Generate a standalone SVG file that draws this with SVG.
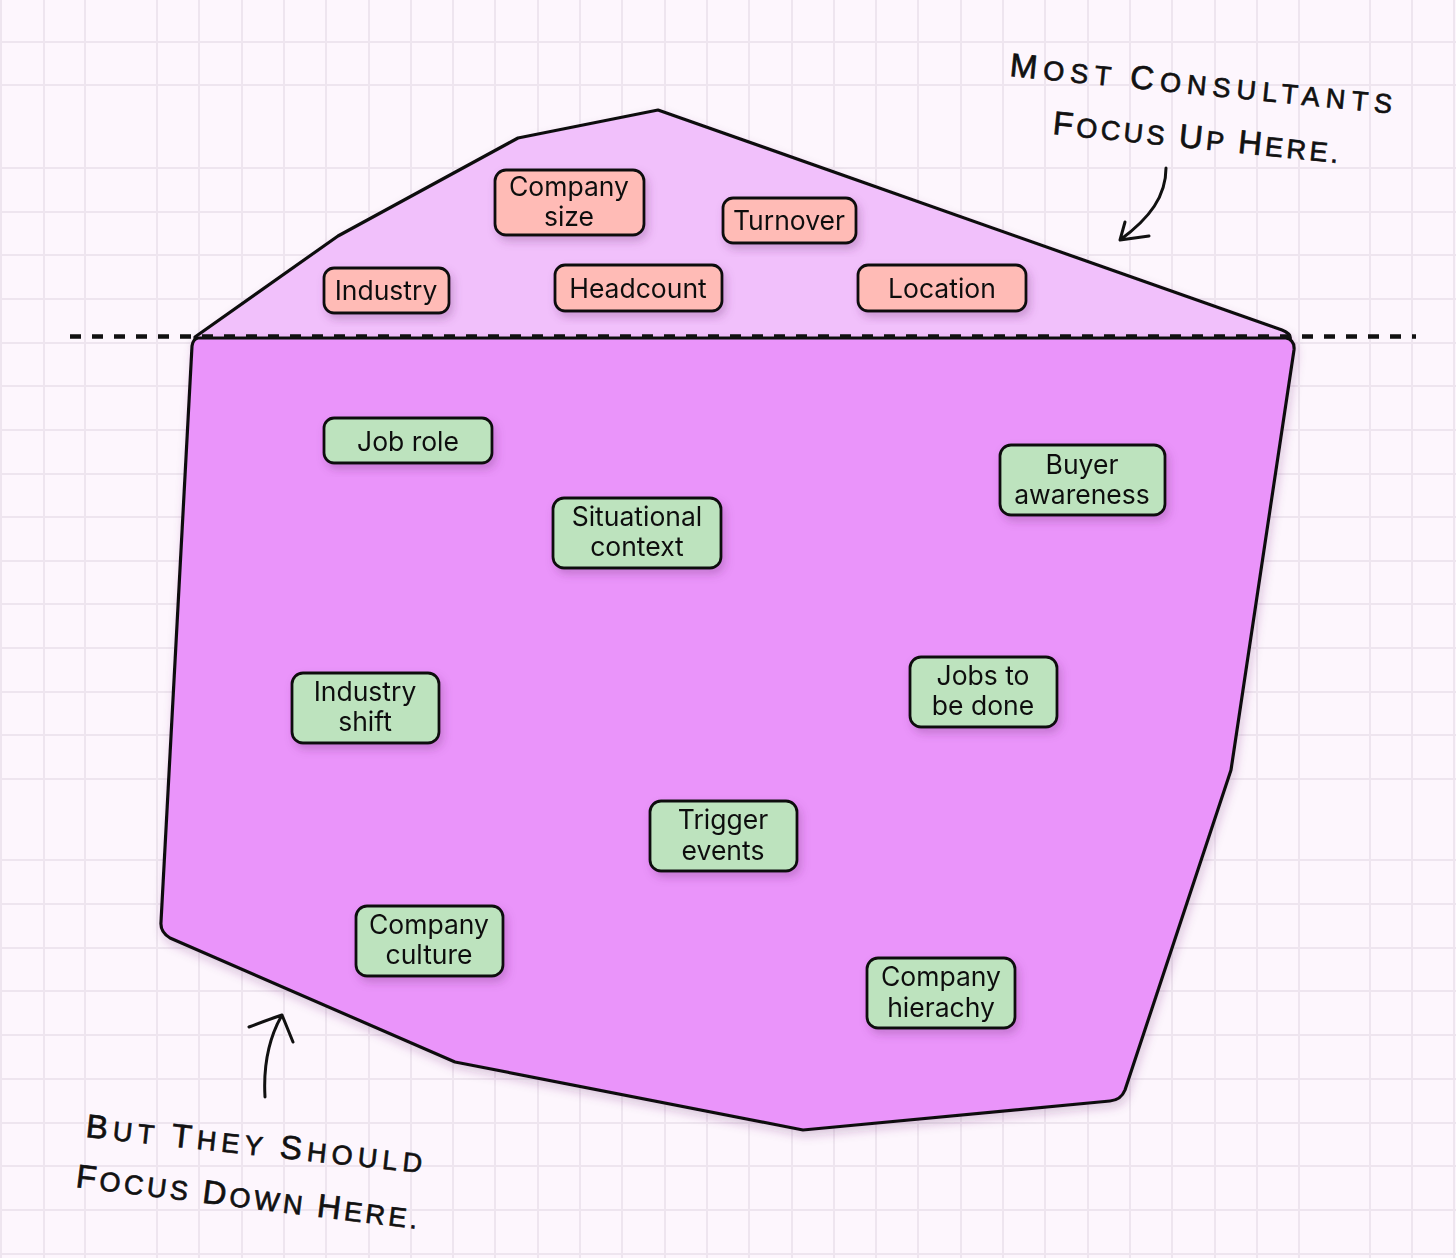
<svg xmlns="http://www.w3.org/2000/svg" width="1456" height="1258" viewBox="0 0 1456 1258">
<defs>
<filter id="sh" x="-20%" y="-20%" width="140%" height="150%">
<feDropShadow dx="3" dy="5" stdDeviation="4" flood-color="#6a2a70" flood-opacity="0.28"/>
</filter>
<filter id="shp" x="-10%" y="-10%" width="120%" height="120%">
<feDropShadow dx="2" dy="5" stdDeviation="5" flood-color="#6a2a70" flood-opacity="0.22"/>
</filter>
<style>
.grid{fill:none;stroke:#EEE5EF;stroke-width:2}
.shape{stroke:#111;stroke-width:3.2;stroke-linejoin:round}
.node rect{stroke:#111;stroke-width:2.8}
.pink rect{fill:#FFBBB6}
.green rect{fill:#BDE3BE}
.node text{font-family:Inter,"Liberation Sans",sans-serif;font-size:26.5px;fill:#111;text-anchor:middle}
.hand{font-family:"Liberation Sans",sans-serif;fill:#111;stroke:#111;stroke-width:0.7;font-size:27px}
.hand .b{font-size:33px}
.arrow{fill:none;stroke:#111;stroke-width:3;stroke-linecap:round;stroke-linejoin:round}
</style>
</defs>
<rect width="1456" height="1258" fill="#FDF6FD"/>
<path class="grid" d="M1 0V1258M44 0V1258M85 0V1258M157 0V1258M199 0V1258M242 0V1258M284 0V1258M326 0V1258M369 0V1258M411 0V1258M453 0V1258M495 0V1258M538 0V1258M580 0V1258M622 0V1258M665 0V1258M707 0V1258M749 0V1258M792 0V1258M834 0V1258M876 0V1258M918 0V1258M961 0V1258M1003 0V1258M1045 0V1258M1088 0V1258M1130 0V1258M1172 0V1258M1215 0V1258M1257 0V1258M1299 0V1258M1370 0V1258M1412 0V1258M1454 0V1258
M0 42H1456M0 85H1456M0 168H1456M0 212H1456M0 255H1456M0 299H1456M0 343H1456M0 386H1456M0 430H1456M0 474H1456M0 517H1456M0 561H1456M0 604H1456M0 648H1456M0 692H1456M0 735H1456M0 779H1456M0 860H1456M0 904H1456M0 948H1456M0 991H1456M0 1035H1456M0 1079H1456M0 1123H1456M0 1166H1456M0 1210H1456M0 1254H1456"/>
<g id="iceberg-top">
<path class="shape" fill="#F1C0FB" filter="url(#shp)" d="M195,337 L338,236 L518,138 L658,110 L1282,330 Q1292,334 1290,340 L195,340 Z"/>
</g>
<g id="iceberg-bottom">
<path class="shape" fill="#EA94FA" filter="url(#shp)" d="M198,338 L1286,338 Q1295,340 1294,350 L1231,770 L1125,1090 Q1121,1100 1110,1101 L803,1130 L455,1062 L170,938 Q160,932 161,922 L192,346 Q193,339 198,338 Z"/>
</g>
<g id="connectors">
<path d="M70,336.5H1416" fill="none" stroke="#111" stroke-width="4.5" stroke-dasharray="11 11"/>
<path class="arrow" d="M1166,168 C1166,196 1150,218 1120,240 M1125,222 L1120,240 L1149,236"/>
<path class="arrow" d="M265,1097 C263,1062 270,1036 282,1015 M249,1027 Q267,1020 282,1015 L293,1042"/>
</g>
<g id="n-company-size" class="node pink" filter="url(#sh)"><rect x="495" y="170" width="149" height="65" rx="11"/><text x="569" y="196">Company</text><text x="569" y="226">size</text></g>
<g id="n-turnover" class="node pink" filter="url(#sh)"><rect x="723" y="198" width="133" height="45" rx="10"/><text x="789" y="230">Turnover</text></g>
<g id="n-industry" class="node pink" filter="url(#sh)"><rect x="324" y="268" width="125" height="45" rx="10"/><text x="386" y="300">Industry</text></g>
<g id="n-headcount" class="node pink" filter="url(#sh)"><rect x="555" y="265" width="167" height="46" rx="10"/><text x="638" y="298">Headcount</text></g>
<g id="n-location" class="node pink" filter="url(#sh)"><rect x="858" y="265" width="168" height="46" rx="10"/><text x="942" y="298">Location</text></g>
<g id="n-job-role" class="node green" filter="url(#sh)"><rect x="324" y="418" width="168" height="45" rx="10"/><text x="408" y="451">Job role</text></g>
<g id="n-buyer-awareness" class="node green" filter="url(#sh)"><rect x="1000" y="445" width="165" height="70" rx="11"/><text x="1082" y="474">Buyer</text><text x="1082" y="504">awareness</text></g>
<g id="n-situational-context" class="node green" filter="url(#sh)"><rect x="553" y="498" width="168" height="70" rx="11"/><text x="637" y="526">Situational</text><text x="637" y="556">context</text></g>
<g id="n-industry-shift" class="node green" filter="url(#sh)"><rect x="292" y="673" width="147" height="70" rx="11"/><text x="365" y="701">Industry</text><text x="365" y="731">shift</text></g>
<g id="n-jobs-to-be-done" class="node green" filter="url(#sh)"><rect x="910" y="657" width="147" height="70" rx="11"/><text x="983" y="685">Jobs to</text><text x="983" y="715">be done</text></g>
<g id="n-trigger-events" class="node green" filter="url(#sh)"><rect x="650" y="801" width="147" height="70" rx="11"/><text x="723" y="829">Trigger</text><text x="723" y="860">events</text></g>
<g id="n-company-culture" class="node green" filter="url(#sh)"><rect x="356" y="906" width="147" height="70" rx="11"/><text x="429" y="934">Company</text><text x="429" y="964">culture</text></g>
<g id="n-company-hierachy" class="node green" filter="url(#sh)"><rect x="867" y="958" width="148" height="70" rx="11"/><text x="941" y="986">Company</text><text x="941" y="1017">hierachy</text></g>
<g id="note-top" class="hand">
<text transform="translate(1009,76) rotate(5.6)" textLength="384" lengthAdjust="spacing"><tspan class="b">M</tspan>OST <tspan class="b">C</tspan>ONSULTANTS</text>
<text transform="translate(1052,134) rotate(5.8)" textLength="287" lengthAdjust="spacing"><tspan class="b">F</tspan>OCUS <tspan class="b">U</tspan>P <tspan class="b">H</tspan>ERE.</text>
</g>
<g id="note-bottom" class="hand">
<text transform="translate(85,1137) rotate(6.1)" textLength="338" lengthAdjust="spacing"><tspan class="b">B</tspan>UT <tspan class="b">T</tspan>HEY <tspan class="b">S</tspan>HOULD</text>
<text transform="translate(75,1187) rotate(7)" textLength="344" lengthAdjust="spacing"><tspan class="b">F</tspan>OCUS <tspan class="b">D</tspan>OWN <tspan class="b">H</tspan>ERE.</text>
</g>
</svg>
